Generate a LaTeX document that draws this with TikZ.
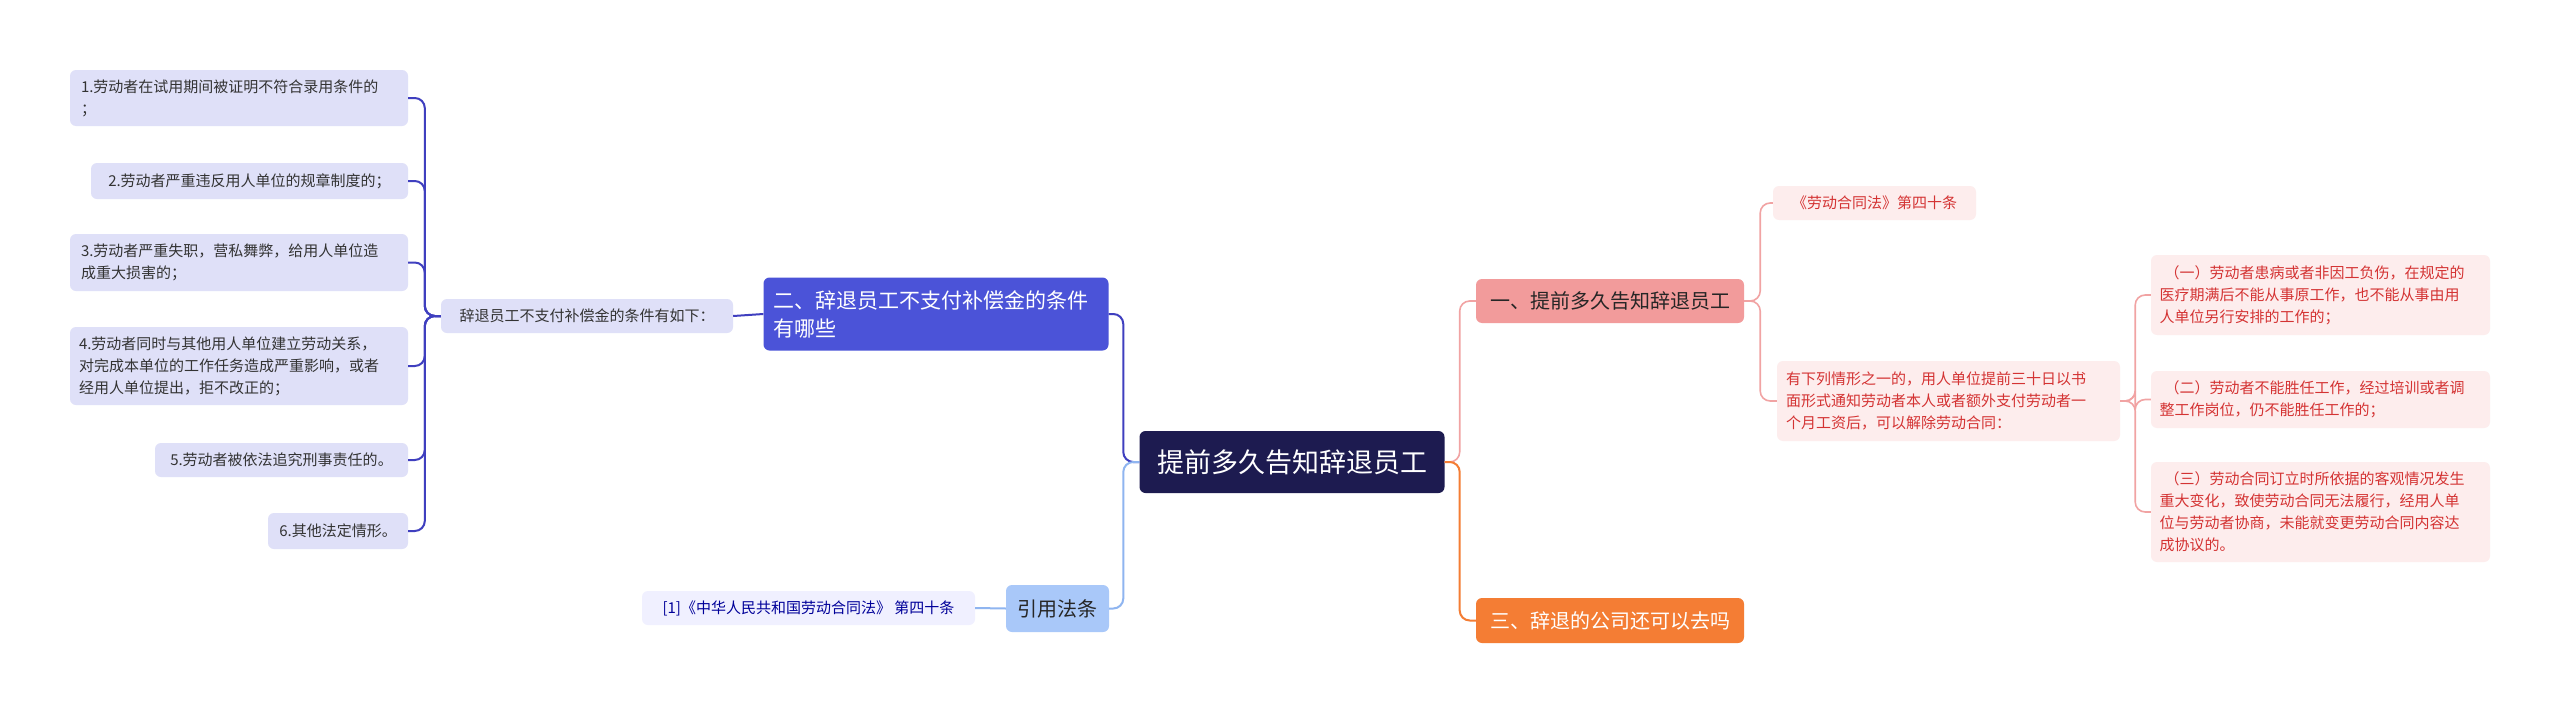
\documentclass[tikz,border=0pt]{standalone}
\usepackage{fontspec}
\setmainfont{Noto Sans CJK SC}
\begin{document}
\begin{tikzpicture}[x=1pt,y=-1pt,
 box/.style={rounded corners=6pt, inner sep=0pt, align=left, font=\fontsize{15}{22}\selectfont},
 leaf/.style={box, fill=leafbg, text=black!80},
 rleaf/.style={box, fill=redbg, text=redtx},
 lc/.style={draw=leftc, line width=2pt, rounded corners=10pt},
 rc/.style={draw=pinkc, line width=1.6pt, rounded corners=10pt}]
\definecolor{leafbg}{HTML}{DFE0F8}
\definecolor{leftc}{HTML}{3F3FBF}
\definecolor{redbg}{HTML}{FDEDED}
\definecolor{redtx}{HTML}{D43333}
\definecolor{pinkc}{HTML}{F1A3A3}
\definecolor{orangec}{HTML}{F47D34}
\definecolor{navy}{HTML}{1D1B50}
\definecolor{bluebr}{HTML}{4B53D8}
\definecolor{lblue}{HTML}{A9C8F9}
\definecolor{lbluec}{HTML}{8FB5F0}
\useasboundingbox (0,0) rectangle (2560,715);
\fill[white] (0,0) rectangle (2560,715);
% center
\node[box, fill=navy, text=white, minimum width=305, minimum height=62, align=center, font=\fontsize{27}{32}\selectfont] (c) at (1292,462) {提前多久告知辞退员工};
% left branch
\node[box, fill=bluebr, text=white, minimum width=345, minimum height=73, text width=325, font=\fontsize{21}{28}\selectfont] (b2) at (936,314) {二、辞退员工不支付补偿金的条件\\有哪些};
\node[leaf, minimum width=292, minimum height=34, align=center] (m) at (587,316) {辞退员工不支付补偿金的条件有如下：};
\node[leaf, minimum width=338, minimum height=56, text width=316] (l1) at (239,98) {1.劳动者在试用期间被证明不符合录用条件的\\；};
\node[leaf, minimum width=317, minimum height=36, align=center] (l2) at (249.5,181) {2.劳动者严重违反用人单位的规章制度的；};
\node[leaf, minimum width=338, minimum height=57, text width=316] (l3) at (239,262.5) {3.劳动者严重失职，营私舞弊，给用人单位造\\成重大损害的；};
\node[leaf, minimum width=338, minimum height=78, text width=320] (l4) at (239,366) {4.劳动者同时与其他用人单位建立劳动关系，\\对完成本单位的工作任务造成严重影响，或者\\经用人单位提出，拒不改正的；};
\node[leaf, minimum width=253, minimum height=34, align=center] (l5) at (281.5,460) {5.劳动者被依法追究刑事责任的。};
\node[leaf, minimum width=140, minimum height=36, align=center] (l6) at (338,531) {6.其他法定情形。};
\draw[lc] (c.west) -- ++(-16,0) |- (b2.east);
\draw[lc] (b2.west) -- (m.east);
\foreach \n in {l1,l2,l3,l4,l5,l6} \draw[lc] (m.west) -- ++(-16,0) |- (\n.east);
% citation
\node[box, fill=lblue, text=black!85, minimum width=103, minimum height=47, align=center, font=\fontsize{20}{24}\selectfont] (y) at (1057.5,608.5) {引用法条};
\node[box, fill=blue!6, text=blue!60!black, minimum width=333, minimum height=34, align=center] (yr) at (808.5,608) {[1]《中华人民共和国劳动合同法》 第四十条};
\draw[draw=lbluec, line width=2pt, rounded corners=10pt] (c.west) -- ++(-16,0) |- (y.east);
\draw[draw=lbluec, line width=2pt] (y.west) -- (yr.east);
% right
\node[box, fill=pinkc!95!red, text=black!85, minimum width=268, minimum height=44, align=center, font=\fontsize{20}{24}\selectfont] (b1) at (1610,301) {一、提前多久告知辞退员工};
\node[box, fill=orangec, text=white, minimum width=268, minimum height=45, align=center, font=\fontsize{20}{24}\selectfont] (b3) at (1610,620.5) {三、辞退的公司还可以去吗};
\draw[rc] (c.east) -- ++(15,0) |- (b1.west);
\draw[draw=orangec, line width=2pt, rounded corners=10pt] (c.east) -- ++(15,0) |- (b3.west);
\node[rleaf, minimum width=203, minimum height=34, align=center] (r0) at (1874.5,203) {《劳动合同法》第四十条};
\node[rleaf, minimum width=343, minimum height=80, text width=325] (r1) at (1948.5,401) {有下列情形之一的，用人单位提前三十日以书\\面形式通知劳动者本人或者额外支付劳动者一\\个月工资后，可以解除劳动合同：};
\draw[rc] (b1.east) -- ++(16,0) |- (r0.west);
\draw[rc] (b1.east) -- ++(16,0) |- (r1.west);
\node[rleaf, minimum width=339, minimum height=80, text width=322] (s1) at (2320.5,295) {\ （一）劳动者患病或者非因工负伤，在规定的\\医疗期满后不能从事原工作，也不能从事由用\\人单位另行安排的工作的；};
\node[rleaf, minimum width=339, minimum height=57, text width=322] (s2) at (2320.5,399.5) {\ （二）劳动者不能胜任工作，经过培训或者调\\整工作岗位，仍不能胜任工作的；};
\node[rleaf, minimum width=339, minimum height=100, text width=322] (s3) at (2320.5,512) {\ （三）劳动合同订立时所依据的客观情况发生\\重大变化，致使劳动合同无法履行，经用人单\\位与劳动者协商，未能就变更劳动合同内容达\\成协议的。};
\foreach \n in {s1,s2,s3} \draw[rc] (r1.east) -- ++(15,0) |- (\n.west);
\end{tikzpicture}
\end{document}
